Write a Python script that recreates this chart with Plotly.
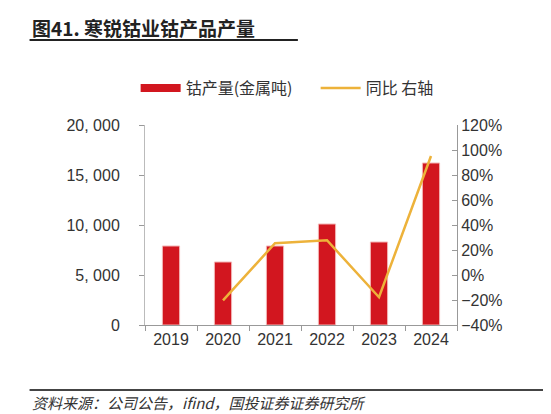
import plotly.graph_objects as go

years = ["2019", "2020", "2021", "2022", "2023", "2024"]
output_t = [7900, 6300, 7900, 10100, 8300, 16200]
yoy_years = ["2020", "2021", "2022", "2023", "2024"]
yoy_pct = [-20.3, 25.4, 27.8, -17.8, 95.2]

left_ticks = [0, 5000, 10000, 15000, 20000]
left_labels = ["0", "5, 000", "10, 000", "15, 000", "20, 000"]
right_ticks = [-40, -20, 0, 20, 40, 60, 80, 100, 120]
right_labels = ["−40%", "−20%", "0%", "20%", "40%", "60%", "80%", "100%", "120%"]

FONT = "Liberation Sans, Arial, Noto Sans CJK SC"
CJK = "Noto Sans CJK SC"
RED = "#D2161F"

fig = go.Figure()
fig.add_trace(go.Bar(x=years, y=output_t, name="钴产量(金属吨)", showlegend=False,
                     marker=dict(color=RED, line=dict(color="#F2B4B4", width=1))))
# wide legend swatch for the bars
fig.add_trace(go.Scatter(x=[None], y=[None], mode="lines", name="钴产量(金属吨)",
                         line=dict(color=RED, width=8)))
fig.add_trace(go.Scatter(x=yoy_years, y=yoy_pct, name="同比 右轴", mode="lines",
                         yaxis="y2", line=dict(color="#EDB23A", width=2.5)))

# the page body adds an 8px offset, so margins are shifted by that
fig.update_layout(
    width=551, height=414,
    margin=dict(l=137, r=102, t=117, b=97, autoexpand=False),
    paper_bgcolor="white", plot_bgcolor="white",
    bargap=0.67,
    font=dict(family=FONT, size=16, color="#333333"),
    showlegend=True,
    legend=dict(orientation="h", x=-0.03, y=1.185, xanchor="left", yanchor="middle",
                font=dict(family=CJK, size=16, color="#333333"),
                itemwidth=40, entrywidth=125, entrywidthmode="pixels",
                tracegroupgap=0, bgcolor="rgba(0,0,0,0)"),
    xaxis=dict(showline=True, linecolor="#999999", linewidth=1, ticks="outside",
               ticklen=5, tickcolor="#999999", showgrid=False, automargin=False,
               tickson="boundaries", tickfont=dict(size=16, color="#333333")),
    yaxis=dict(range=[0, 20000], tickvals=left_ticks, ticktext=left_labels,
               showline=True, linecolor="#BBBBBB", linewidth=1, ticks="outside",
               ticklen=5, tickcolor="#999999", showgrid=False, zeroline=False,
               automargin=False, ticklabelstandoff=16,
               tickfont=dict(size=16, color="#333333")),
    yaxis2=dict(range=[-40, 120], tickvals=right_ticks, ticktext=right_labels,
                overlaying="y", side="right", showline=True, linecolor="#999999",
                linewidth=1, ticks="inside", ticklen=5, tickcolor="#999999",
                showgrid=False, zeroline=False, automargin=False,
                tickfont=dict(size=16, color="#333333")),
)

fig.add_annotation(text="<b>图41. 寒锐钴业钴产品产量</b>", xref="paper", yref="paper",
                   x=-0.37, y=1.49, xanchor="left", yanchor="middle", showarrow=False,
                   font=dict(family=CJK, size=19, color="#222222"))
fig.add_annotation(text="<i>资料来源：公司公告，ifind，国投证券证券研究所</i>", xref="paper",
                   yref="paper", x=-0.37, y=-0.385, xanchor="left", yanchor="middle",
                   showarrow=False, font=dict(family=CJK, size=15, color="#333333"))
# rules under the title and above the source
fig.add_shape(type="line", xref="paper", yref="paper", x0=-0.37, x1=0.49,
              y0=1.425, y1=1.425, line=dict(color="#222222", width=2))
fig.add_shape(type="line", xref="paper", yref="paper", x0=-0.37, x1=1.3,
              y0=-0.325, y1=-0.325, line=dict(color="#444444", width=2))

fig.write_html("out.html")
